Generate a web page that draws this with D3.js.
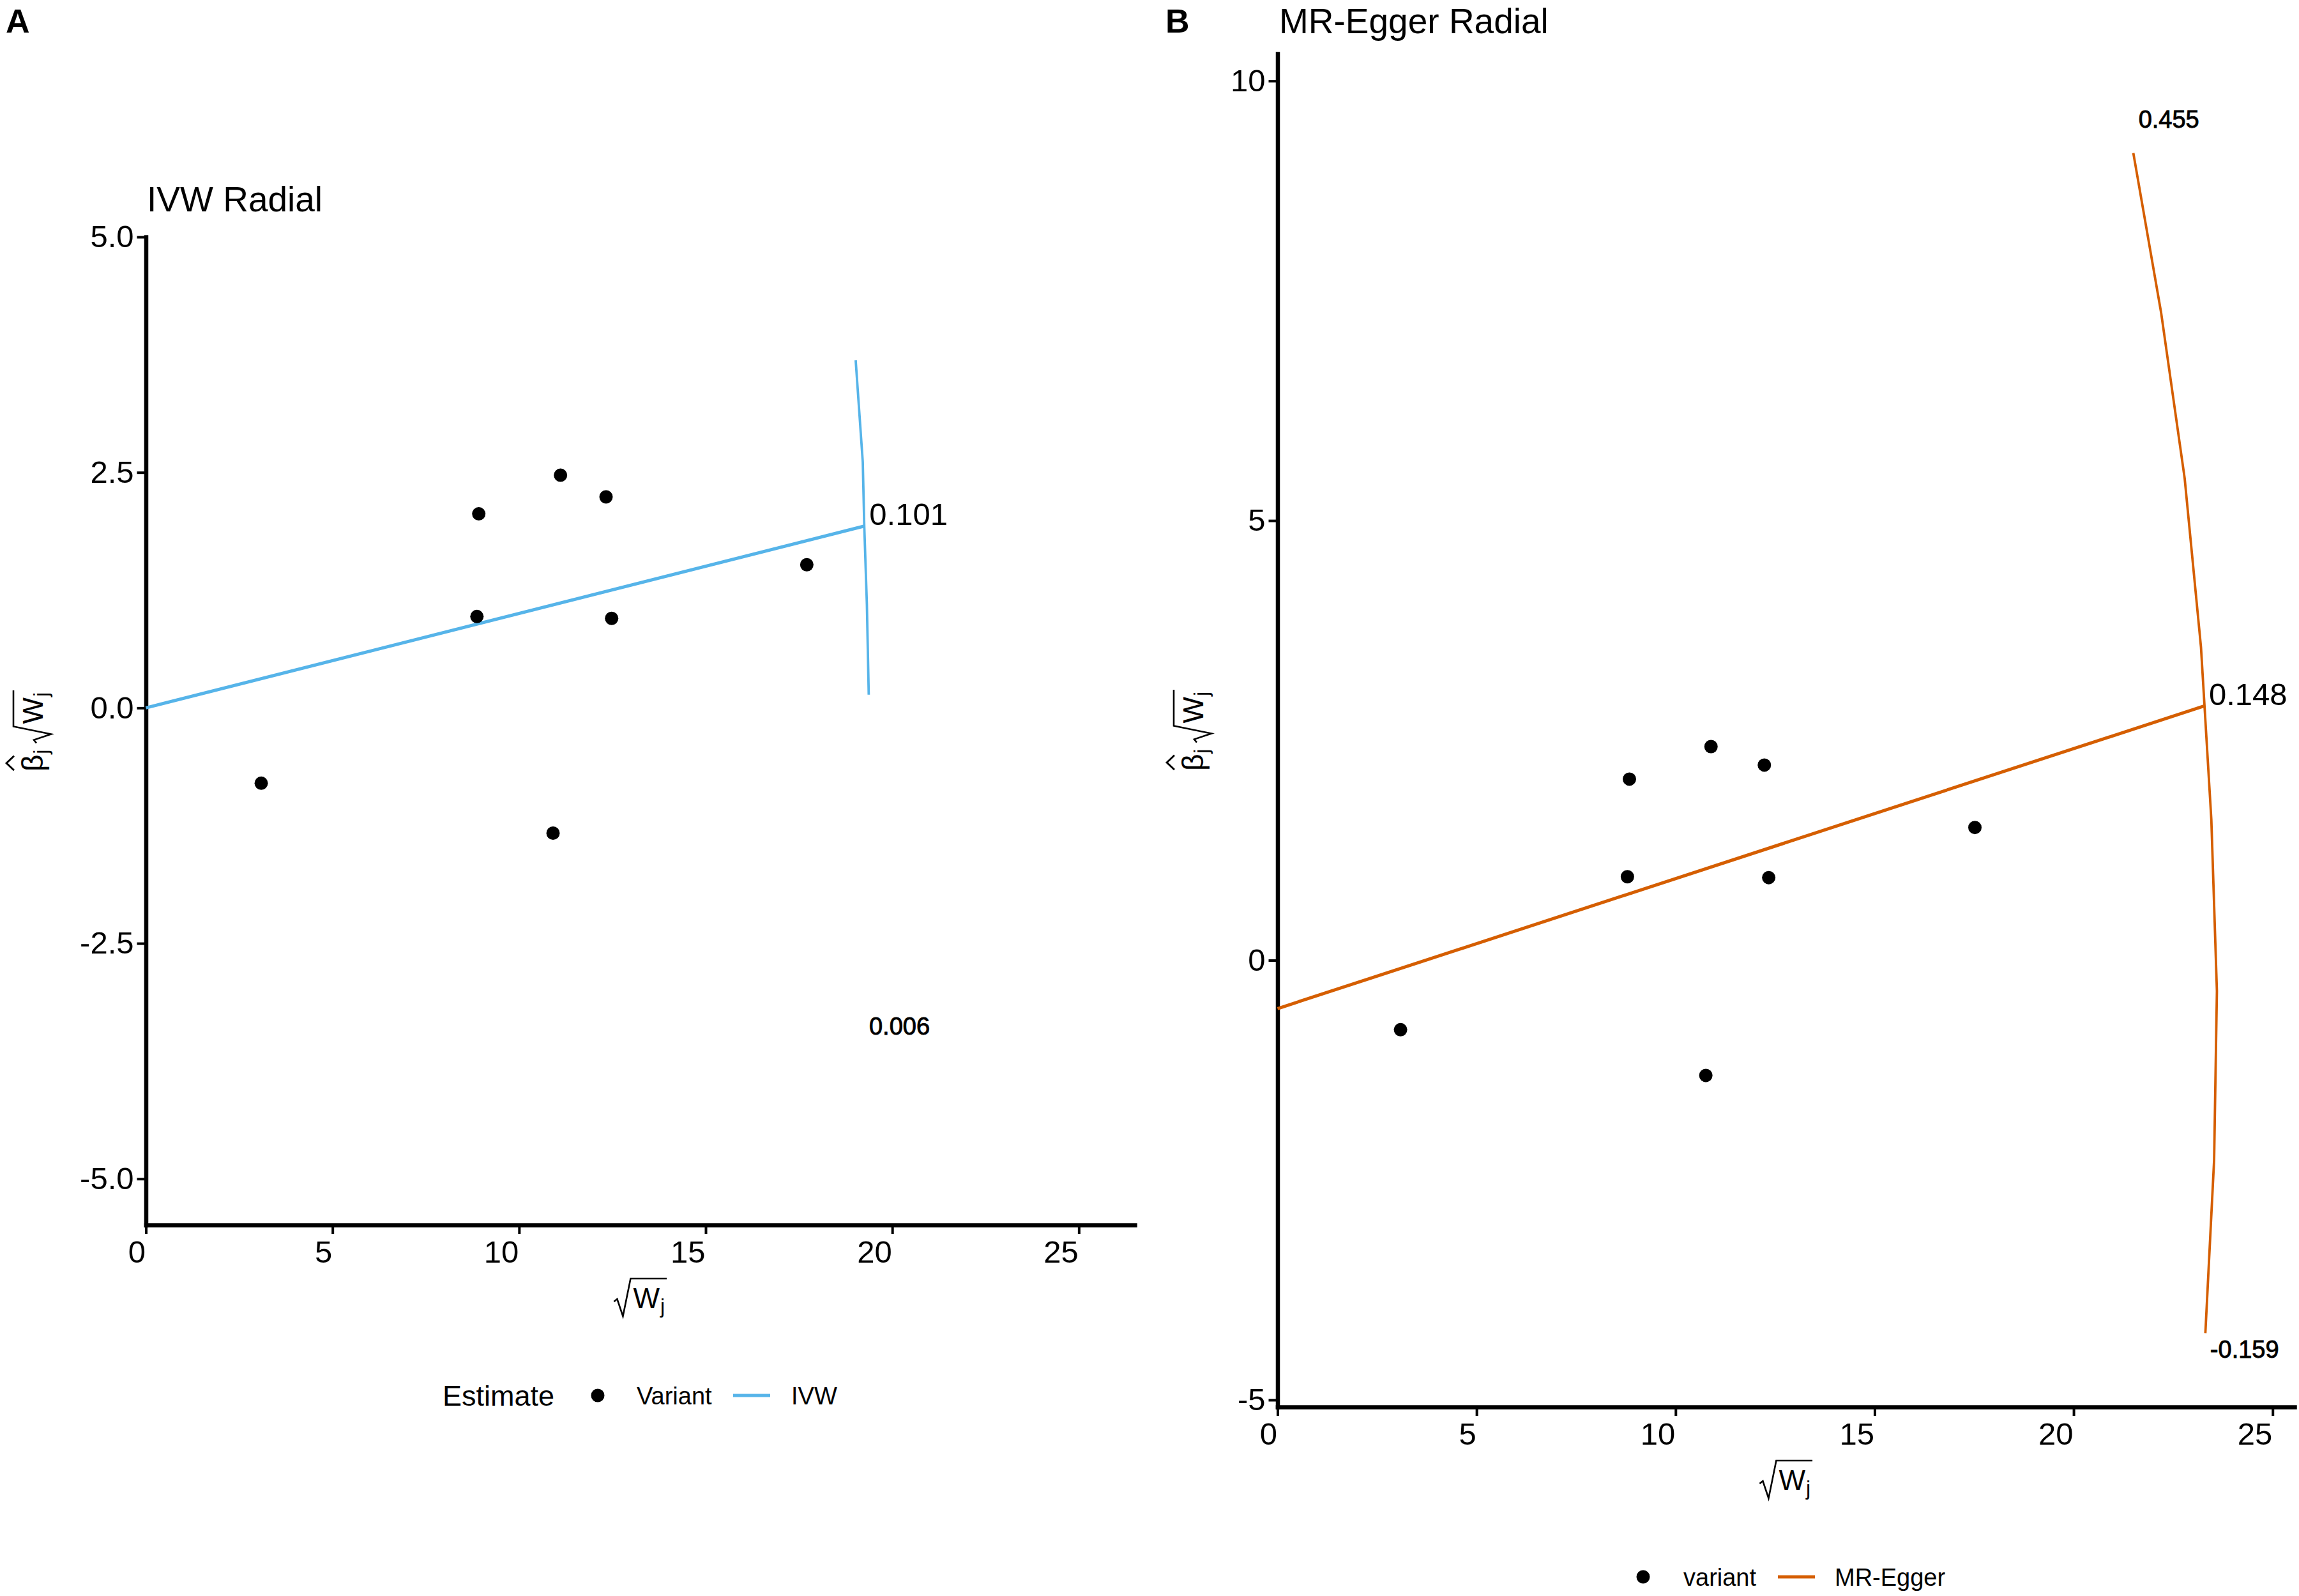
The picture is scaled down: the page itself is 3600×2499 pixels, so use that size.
<!DOCTYPE html>
<html>
<head>
<meta charset="utf-8">
<title>Radial MR plots</title>
<script src="https://cdn.jsdelivr.net/npm/d3@7"></script>
<style>
  body { margin: 0; background: #ffffff; }
  text { font-family: "Liberation Sans", Arial, Helvetica, sans-serif; fill: #000; }
</style>
</head>
<body>
<div id="container"></div>
<script>
/* CONSTANTS AND GLOBALS */
const width = 3600,
  height = 2499,
  radius = 10.5;

const ivwColor = "#56B4E9",
  eggerColor = "#D55E00";

/* DATA */
// panel A : IVW radial
const ivwPointX = [3.09, 8.92, 8.87, 11.11, 12.33, 12.48, 10.91, 17.71];
const ivwPointY = [-0.80, 2.06, 0.97, 2.47, 2.24, 0.95, -1.33, 1.52];
const ivwLineX = [0, 19.25];
const ivwLineY = [0, 1.93];
const ivwArcX = [19.02, 19.21, 19.25, 19.32, 19.37];
const ivwArcY = [3.69, 2.61, 1.93, 1.10, 0.14];
const ivwEstimate = "0.101";
const ivwCiLabels = ["0.006"];
const ivwCiX = [19.38];
const ivwCiY = [-3.47];
const ivwXDomain = [0, 26.5];
const ivwYDomain = [-5.49, 5];
const ivwXTicks = [0, 5, 10, 15, 20, 25];
const ivwXTickLabels = ["0", "5", "10", "15", "20", "25"];
const ivwYTicks = [-5, -2.5, 0, 2.5, 5];
const ivwYTickLabels = ["-5.0", "-2.5", "0.0", "2.5", "5.0"];
const ivwLegend = ["Variant", "IVW"];

// panel B : MR-Egger radial
const eggerPointX = [3.09, 8.84, 8.79, 10.89, 12.23, 12.34, 10.76, 17.52];
const eggerPointY = [-0.79, 2.06, 0.95, 2.43, 2.22, 0.94, -1.31, 1.51];
const eggerLineX = [0, 23.27];
const eggerLineY = [-0.55, 2.89];
const eggerArcX = [21.50, 22.20, 22.79, 23.20, 23.46, 23.60, 23.53, 23.31];
const eggerArcY = [9.18, 7.36, 5.48, 3.56, 1.60, -0.35, -2.27, -4.24];
const eggerEstimate = "0.148";
const eggerCiLabels = ["0.455", "-0.159"];
const eggerCiX = [21.63, 23.43];
const eggerCiY = [9.47, -4.52];
const eggerXDomain = [0, 25.55];
const eggerYDomain = [-5.08, 10.31];
const eggerXTicks = [0, 5, 10, 15, 20, 25];
const eggerXTickLabels = ["0", "5", "10", "15", "20", "25"];
const eggerYTicks = [-5, 0, 5, 10];
const eggerYTickLabels = ["-5", "0", "5", "10"];
const eggerLegend = ["variant", "MR-Egger"];

let svg;

/* INITIALIZING FUNCTION */
function init() {
  svg = d3.select("#container")
    .append("svg")
    .attr("width", width)
    .attr("height", height)
    .attr("viewBox", `0 0 ${width} ${height}`);

  svg.append("rect").attr("width", width).attr("height", height).attr("fill", "#fff");

  const panelA = {
    tag: "A", tagX: 9, tagY: 51,
    title: "IVW Radial", titleX: 230, titleY: 331,
    x: d3.scaleLinear().domain(ivwXDomain).range([228.5, 1777]),
    y: d3.scaleLinear().domain(ivwYDomain).range([1918, 371]),
    xTicks: ivwXTicks, xTickLabels: ivwXTickLabels,
    yTicks: ivwYTicks, yTickLabels: ivwYTickLabels,
    pointX: ivwPointX, pointY: ivwPointY,
    lineX: ivwLineX, lineY: ivwLineY,
    arcX: ivwArcX, arcY: ivwArcY,
    estimate: ivwEstimate,
    ciLabels: ivwCiLabels, ciX: ivwCiX, ciY: ivwCiY,
    color: ivwColor,
    yTitleX: 67, xTitleY: 2048,
    legend: ivwLegend, legendTitle: "Estimate",
    legendY: 2185, legendTitleX: 693, legendDotX: 936, legendText1X: 997, legendLineX: 1148, legendText2X: 1239
  };

  const panelB = {
    tag: "B", tagX: 1825, tagY: 51,
    title: "MR-Egger Radial", titleX: 2003, titleY: 52,
    x: d3.scaleLinear().domain(eggerXDomain).range([2000.5, 3593]),
    y: d3.scaleLinear().domain(eggerYDomain).range([2203, 84]),
    xTicks: eggerXTicks, xTickLabels: eggerXTickLabels,
    yTicks: eggerYTicks, yTickLabels: eggerYTickLabels,
    pointX: eggerPointX, pointY: eggerPointY,
    lineX: eggerLineX, lineY: eggerLineY,
    arcX: eggerArcX, arcY: eggerArcY,
    estimate: eggerEstimate,
    ciLabels: eggerCiLabels, ciX: eggerCiX, ciY: eggerCiY,
    color: eggerColor,
    yTitleX: 1884, xTitleY: 2333,
    legend: eggerLegend, legendTitle: null,
    legendY: 2469, legendDotX: 2573, legendText1X: 2636, legendLineX: 2784, legendText2X: 2873
  };

  draw(panelA);
  draw(panelB);
}

/* plotmath-ish pieces: sqrt(W[j]) and hat(beta)[j], baseline at y = 0 */
function sqrtW(g, x0) {
  const wl = x0 + 30;
  const w = g.append("text").attr("x", wl).attr("y", 0).attr("font-size", 44).text("W");
  const ww = w.node().getComputedTextLength();
  const j = g.append("text").attr("x", wl + ww + 1).attr("y", 8).attr("font-size", 32).text("j");
  const right = wl + ww + 1 + j.node().getComputedTextLength() + 3;
  g.append("path")
    .attr("d", `M${wl - 30},-10 L${wl - 25},-14 L${wl - 16},13 L${wl - 4},-46 H${right}`)
    .attr("fill", "none")
    .attr("stroke", "#000")
    .attr("stroke-width", 2.6);
  return right;
}

function betaHat(g, x0) {
  const b = g.append("text").attr("x", x0).attr("y", 0).attr("font-size", 46).text("β");
  const bw = b.node().getComputedTextLength();
  g.append("path")
    .attr("d", `M${x0 + 2},-45 L${x0 + bw / 2},-57 L${x0 + bw - 2},-45`)
    .attr("fill", "none")
    .attr("stroke", "#000")
    .attr("stroke-width", 2.8);
  const j = g.append("text").attr("x", x0 + bw + 1).attr("y", 8).attr("font-size", 32).text("j");
  return x0 + bw + 1 + j.node().getComputedTextLength();
}

/* DRAW FUNCTION */
function draw(p) {
  const g = svg.append("g").attr("class", "panel-" + p.tag);

  // tag and title
  g.append("text")
    .attr("x", p.tagX).attr("y", p.tagY)
    .attr("font-size", 52).attr("font-weight", "bold")
    .text(p.tag);
  g.append("text")
    .attr("x", p.titleX).attr("y", p.titleY)
    .attr("font-size", 55)
    .text(p.title);

  // axes
  const xAxis = d3.axisBottom(p.x)
    .tickValues(p.xTicks)
    .tickFormat(d => p.xTickLabels[p.xTicks.indexOf(d)])
    .tickSize(14)
    .tickSizeOuter(0)
    .tickPadding(10);

  const yAxis = d3.axisLeft(p.y)
    .tickValues(p.yTicks)
    .tickFormat(d => p.yTickLabels[p.yTicks.indexOf(d)])
    .tickSize(14)
    .tickSizeOuter(0)
    .tickPadding(5);

  const xAxisGroup = g.append("g")
    .attr("class", "xAxis")
    .attr("transform", `translate(0, ${p.y.range()[0]})`)
    .call(xAxis);

  const yAxisGroup = g.append("g")
    .attr("class", "yAxis")
    .attr("transform", `translate(${p.x.range()[0]}, 0)`)
    .call(yAxis);

  [xAxisGroup, yAxisGroup].forEach(ax => {
    ax.attr("font-size", 49).attr("font-family", null);
    ax.select(".domain")
      .attr("stroke", "#000")
      .attr("stroke-width", 6.5)
      .attr("stroke-linecap", "square");
    ax.selectAll(".tick line").attr("stroke", "#000").attr("stroke-width", 4);
  });
  // the x tick labels sit right-aligned on their ticks in the original
  xAxisGroup.selectAll(".tick text").attr("text-anchor", "end").attr("dx", -1);

  // estimate line and the arc
  const line = d3.line()
    .x(d => p.x(d[0]))
    .y(d => p.y(d[1]));

  g.append("path")
    .datum(d3.zip(p.lineX, p.lineY))
    .attr("d", line)
    .attr("fill", "none")
    .attr("stroke", p.color)
    .attr("stroke-width", 5);

  g.append("path")
    .datum(d3.zip(p.arcX, p.arcY))
    .attr("d", line)
    .attr("fill", "none")
    .attr("stroke", p.color)
    .attr("stroke-width", 3.8)
    .attr("stroke-linejoin", "round");

  // variants
  g.selectAll("circle.dot")
    .data(d3.zip(p.pointX, p.pointY))
    .join("circle")
    .attr("class", "dot")
    .attr("cx", d => p.x(d[0]))
    .attr("cy", d => p.y(d[1]))
    .attr("r", radius)
    .attr("fill", "#000");

  // labels
  g.append("text")
    .attr("x", p.x(p.lineX[1]) + 8)
    .attr("y", p.y(p.lineY[1]) - 2)
    .attr("font-size", 49)
    .text(p.estimate);

  // the small CI labels look a touch heavier than regular in the original
  g.selectAll("text.ci")
    .data(d3.zip(p.ciLabels, p.ciX, p.ciY))
    .join("text")
    .attr("class", "ci")
    .attr("x", d => p.x(d[1]))
    .attr("y", d => p.y(d[2]))
    .attr("font-size", 38)
    .attr("stroke", "#000")
    .attr("stroke-width", 0.9)
    .text(d => d[0]);

  // x axis title: sqrt(W_j)
  const xt = g.append("g");
  sqrtW(xt, 0);
  const xb = xt.node().getBBox();
  const xMid = (p.x.range()[0] + p.x.range()[1]) / 2;
  xt.attr("transform", `translate(${xMid - (xb.x + xb.width / 2)}, ${p.xTitleY})`);

  // y axis title: hat(beta)_j sqrt(W_j), rotated
  const yt = g.append("g");
  const inner = yt.append("g");
  const bEnd = betaHat(inner, 0);
  sqrtW(inner, bEnd + 10);
  const yb = inner.node().getBBox();
  const yMid = (p.y.range()[0] + p.y.range()[1]) / 2;
  inner.attr("transform", `translate(${-(yb.x + yb.width / 2)}, 0)`);
  yt.attr("transform", `translate(${p.yTitleX}, ${yMid}) rotate(-90)`);

  // legend
  const lg = g.append("g").attr("class", "legend");
  if (p.legendTitle) {
    lg.append("text")
      .attr("x", p.legendTitleX).attr("y", p.legendY).attr("dy", "0.36em")
      .attr("font-size", 45)
      .text(p.legendTitle);
  }
  lg.append("circle")
    .attr("cx", p.legendDotX).attr("cy", p.legendY).attr("r", radius)
    .attr("fill", "#000");
  lg.append("text")
    .attr("x", p.legendText1X).attr("y", p.legendY).attr("dy", "0.36em")
    .attr("font-size", 38)
    .text(p.legend[0]);
  lg.append("line")
    .attr("x1", p.legendLineX).attr("x2", p.legendLineX + 58)
    .attr("y1", p.legendY).attr("y2", p.legendY)
    .attr("stroke", p.color)
    .attr("stroke-width", 5);
  lg.append("text")
    .attr("x", p.legendText2X).attr("y", p.legendY).attr("dy", "0.36em")
    .attr("font-size", 38)
    .text(p.legend[1]);
}

init();
</script>
</body>
</html>
